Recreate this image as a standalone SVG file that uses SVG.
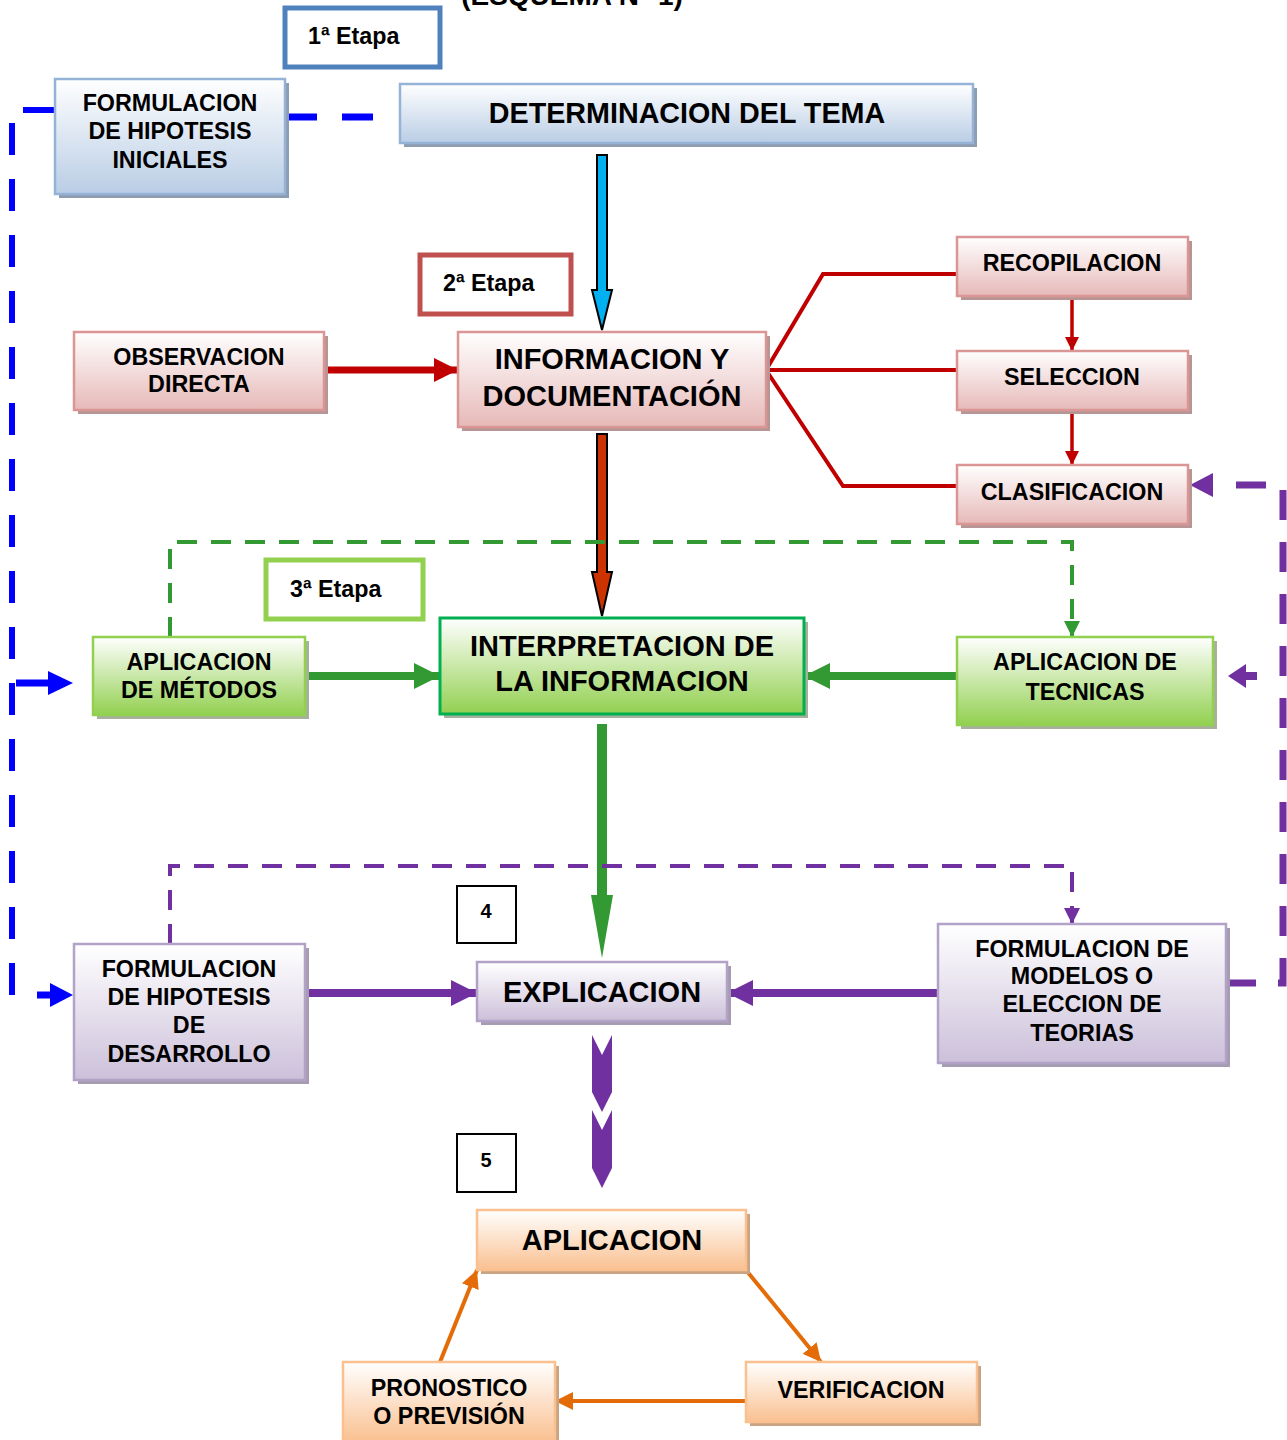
<svg xmlns="http://www.w3.org/2000/svg" width="1287" height="1440" viewBox="0 0 1287 1440">
<style>
text{font-family:"Liberation Sans",Arial,sans-serif;font-weight:bold;fill:#000;text-anchor:middle}
.s22{font-size:23.3px}
.s28{font-size:29px}
.etq{fill:#fff}
.blue{fill:url(#gBlue);stroke:#95B3D7;stroke-width:2.5}
.pink{fill:url(#gPink);stroke:#D99694;stroke-width:2.5}
.green{fill:url(#gGreen);stroke:#92D050;stroke-width:2.5}
.purple{fill:url(#gPurple);stroke:#B3A2C7;stroke-width:2.5}
.peach{fill:url(#gPeach);stroke:#FAC090;stroke-width:2.5}
.shB{fill:#8E9CB0}.shP{fill:#B89595}.shG{fill:#A7B09C}.shU{fill:#A69CB2}.shO{fill:#C9A483}
.red{stroke:#C00000;stroke-width:4;fill:none}
</style>
<defs>
<linearGradient id="gBlue" x1="0" y1="0" x2="0" y2="1"><stop offset="0" stop-color="#FFFFFF"/><stop offset="1" stop-color="#B9CDE5"/></linearGradient>
<linearGradient id="gPink" x1="0" y1="0" x2="0" y2="1"><stop offset="0" stop-color="#FFFFFF"/><stop offset="1" stop-color="#E6B9B8"/></linearGradient>
<linearGradient id="gGreen" x1="0" y1="0" x2="0" y2="1"><stop offset="0" stop-color="#FFFFFF"/><stop offset="1" stop-color="#92D050"/></linearGradient>
<linearGradient id="gPurple" x1="0" y1="0" x2="0" y2="1"><stop offset="0" stop-color="#FFFFFF"/><stop offset="1" stop-color="#CCC0DA"/></linearGradient>
<linearGradient id="gPeach" x1="0" y1="0" x2="0" y2="1"><stop offset="0" stop-color="#FFFFFF"/><stop offset="1" stop-color="#FAC090"/></linearGradient>
<marker id="aRed" markerUnits="userSpaceOnUse" markerWidth="24" markerHeight="24" viewBox="0 0 24 24" refX="24" refY="12" orient="auto"><path d="M0,0 L24,12 L0,24 Z" fill="#C00000"/></marker>
<marker id="aRedS" markerUnits="userSpaceOnUse" markerWidth="14" markerHeight="14" viewBox="0 0 14 14" refX="14" refY="7" orient="auto"><path d="M0,0 L14,7 L0,14 Z" fill="#C00000"/></marker>
<marker id="aGreen" markerUnits="userSpaceOnUse" markerWidth="26" markerHeight="26" viewBox="0 0 26 26" refX="26" refY="13" orient="auto"><path d="M0,0 L26,13 L0,26 Z" fill="#339933"/></marker>
<marker id="aGreenS" markerUnits="userSpaceOnUse" markerWidth="16" markerHeight="16" viewBox="0 0 16 16" refX="16" refY="8" orient="auto"><path d="M0,0 L16,8 L0,16 Z" fill="#339933"/></marker>
<marker id="aPur" markerUnits="userSpaceOnUse" markerWidth="26" markerHeight="26" viewBox="0 0 26 26" refX="26" refY="13" orient="auto"><path d="M0,0 L26,13 L0,26 Z" fill="#7030A0"/></marker>
<marker id="aPurS" markerUnits="userSpaceOnUse" markerWidth="16" markerHeight="16" viewBox="0 0 16 16" refX="16" refY="8" orient="auto"><path d="M0,0 L16,8 L0,16 Z" fill="#7030A0"/></marker>
<marker id="aOr" markerUnits="userSpaceOnUse" markerWidth="18" markerHeight="18" viewBox="0 0 18 18" refX="18" refY="9" orient="auto"><path d="M0,0 L18,9 L0,18 Z" fill="#E36C09"/></marker>
</defs>

<text x="572" y="5" style="font-size:28px">(ESQUEMA N° 1)</text>

<g id="connectors">
  <path d="M55,110 H12 V995" fill="none" stroke="#0000FF" stroke-width="6" stroke-dasharray="32 24"/>
  <path d="M16,683 H48" stroke="#0000FF" stroke-width="7" fill="none"/>
  <polygon points="48,671 73,683 48,695" fill="#0000FF"/>
  <path d="M37,995 H50" stroke="#0000FF" stroke-width="7" fill="none"/>
  <polygon points="50,983 73,995 50,1007" fill="#0000FF"/>
  <path d="M285,117 H373" fill="none" stroke="#0000FF" stroke-width="7" stroke-dasharray="32 25"/>

  <polygon points="597,155 607,155 607,290 612,290 602,330 592,290 597,290" fill="#00B0F0" stroke="#000" stroke-width="2"/>
  <path d="M324,370 H458" stroke="#C00000" stroke-width="7" fill="none" marker-end="url(#aRed)"/>
  <path class="red" d="M766,370 L823,274 H957"/>
  <path class="red" d="M766,370 H957"/>
  <path class="red" d="M766,370 L843,486 H957"/>
  <path d="M1072,296 V351" stroke="#C00000" stroke-width="3.5" fill="none" marker-end="url(#aRedS)"/>
  <path d="M1072,410 V465" stroke="#C00000" stroke-width="3.5" fill="none" marker-end="url(#aRedS)"/>
  <polygon points="597,434 607,434 607,572 612,572 602,616 592,572 597,572" fill="#CC3300" stroke="#000" stroke-width="2"/>
  <path d="M170,637 V542 H1072 V626" fill="none" stroke="#339933" stroke-width="4" stroke-dasharray="20 14"/>
  <path d="M1072,622 V637" stroke="#339933" stroke-width="4" marker-end="url(#aGreenS)"/>
  <path d="M305,676 H440" stroke="#339933" stroke-width="8" fill="none" marker-end="url(#aGreen)"/>
  <path d="M957,676 H804" stroke="#339933" stroke-width="8" fill="none" marker-end="url(#aGreen)"/>
  <polygon points="597,724 607,724 607,895 613,895 602,958 591,895 597,895" fill="#339933"/>
  <path d="M170,944 V866 H1072 V912" fill="none" stroke="#7030A0" stroke-width="4" stroke-dasharray="20 14"/>
  <path d="M1072,906 V924" stroke="#7030A0" stroke-width="4" marker-end="url(#aPurS)"/>
  <path d="M305,993 H477" stroke="#7030A0" stroke-width="8" fill="none" marker-end="url(#aPur)"/>
  <path d="M938,993 H727" stroke="#7030A0" stroke-width="8" fill="none" marker-end="url(#aPur)"/>
  <path d="M1226,983 H1283 V485 H1220" fill="none" stroke="#7030A0" stroke-width="7" stroke-dasharray="30 22"/>
  <polygon points="1190,485 1213,473 1213,497" fill="#7030A0"/>
  <path d="M1244,676 H1257" stroke="#7030A0" stroke-width="8" fill="none"/>
  <polygon points="1228,676 1246,664 1246,688" fill="#7030A0"/>
  <polygon points="592,1035 602,1055 612,1035 612,1092 602,1112 592,1092" fill="#7030A0"/>
  <polygon points="592,1110 602,1130 612,1110 612,1168 602,1188 592,1168" fill="#7030A0"/>
  <path d="M440,1362 L477,1270" stroke="#E36C09" stroke-width="4" fill="none" marker-end="url(#aOr)"/>
  <path d="M746,1270 L821,1362" stroke="#E36C09" stroke-width="4" fill="none" marker-end="url(#aOr)"/>
  <path d="M746,1401 H555" stroke="#E36C09" stroke-width="4" fill="none" marker-end="url(#aOr)"/>
</g>

<g id="etapa1"><rect x="285" y="8" width="155" height="59" class="etq" stroke="#4F81BD" stroke-width="5"/><text x="308" y="44" class="s22" style="text-anchor:start">1ª Etapa</text></g>
<g id="etapa2"><rect x="420" y="255" width="151" height="59" class="etq" stroke="#C0504D" stroke-width="5"/><text x="443" y="291" class="s22" style="text-anchor:start">2ª Etapa</text></g>
<g id="etapa3"><rect x="266" y="560" width="157" height="59" class="etq" stroke="#92D050" stroke-width="5"/><text x="290" y="597" class="s22" style="text-anchor:start">3ª Etapa</text></g>
<g id="etapa4"><rect x="457" y="886" width="59" height="57" class="etq" stroke="#000" stroke-width="2"/><text x="486" y="918" style="font-size:20px">4</text></g>
<g id="etapa5"><rect x="457" y="1134" width="59" height="58" class="etq" stroke="#000" stroke-width="2"/><text x="486" y="1167" style="font-size:20px">5</text></g>

<g id="hipotesis-iniciales"><rect x="59" y="83" width="230" height="115" class="shB"/><rect x="55" y="79" width="230" height="115" class="blue"/>
<text class="s22" x="170" y="111">FORMULACION</text><text class="s22" x="170" y="139">DE HIPOTESIS</text><text class="s22" x="170" y="168">INICIALES</text></g>

<g id="determinacion"><rect x="404" y="88" width="573" height="59" class="shB"/><rect x="400" y="84" width="573" height="59" class="blue"/>
<text x="687" y="123" style="font-size:28.7px">DETERMINACION DEL TEMA</text></g>

<g id="observacion"><rect x="78" y="336" width="250" height="78" class="shP"/><rect x="74" y="332" width="250" height="78" class="pink"/>
<text class="s22" x="199" y="365">OBSERVACION</text><text class="s22" x="199" y="392">DIRECTA</text></g>

<g id="informacion"><rect x="462" y="336" width="308" height="95" class="shP"/><rect x="458" y="332" width="308" height="95" class="pink"/>
<text class="s28" x="612" y="369">INFORMACION Y</text><text class="s28" x="612" y="406">DOCUMENTACIÓN</text></g>

<g id="recopilacion"><rect x="961" y="241" width="231" height="59" class="shP"/><rect x="957" y="237" width="231" height="59" class="pink"/><text class="s22" x="1072" y="271">RECOPILACION</text></g>
<g id="seleccion"><rect x="961" y="355" width="231" height="59" class="shP"/><rect x="957" y="351" width="231" height="59" class="pink"/><text class="s22" x="1072" y="385">SELECCION</text></g>
<g id="clasificacion"><rect x="961" y="469" width="231" height="59" class="shP"/><rect x="957" y="465" width="231" height="59" class="pink"/><text class="s22" x="1072" y="500">CLASIFICACION</text></g>

<g id="metodos"><rect x="97" y="641" width="212" height="78" class="shG"/><rect x="93" y="637" width="212" height="78" class="green"/>
<text class="s22" x="199" y="670">APLICACION</text><text class="s22" x="199" y="698">DE MÉTODOS</text></g>

<g id="interpretacion"><rect x="444" y="622" width="364" height="96" class="shG"/><rect x="440" y="618" width="364" height="96" fill="url(#gGreen)" stroke="#00B050" stroke-width="3"/>
<text class="s28" x="622" y="656">INTERPRETACION DE</text><text class="s28" x="622" y="691">LA INFORMACION</text></g>

<g id="tecnicas"><rect x="961" y="641" width="256" height="88" class="shG"/><rect x="957" y="637" width="256" height="88" class="green"/>
<text class="s22" x="1085" y="670">APLICACION DE</text><text class="s22" x="1085" y="700">TECNICAS</text></g>

<g id="hipotesis-desarrollo"><rect x="78" y="948" width="231" height="136" class="shU"/><rect x="74" y="944" width="231" height="136" class="purple"/>
<text class="s22" x="189" y="977">FORMULACION</text><text class="s22" x="189" y="1005">DE HIPOTESIS</text><text class="s22" x="189" y="1033">DE</text><text class="s22" x="189" y="1062">DESARROLLO</text></g>

<g id="explicacion"><rect x="481" y="966" width="250" height="59" class="shU"/><rect x="477" y="962" width="250" height="59" class="purple"/><text class="s28" x="602" y="1002">EXPLICACION</text></g>

<g id="modelos"><rect x="942" y="928" width="288" height="139" class="shU"/><rect x="938" y="924" width="288" height="139" class="purple"/>
<text class="s22" x="1082" y="957">FORMULACION DE</text><text class="s22" x="1082" y="984">MODELOS O</text><text class="s22" x="1082" y="1012">ELECCION DE</text><text class="s22" x="1082" y="1041">TEORIAS</text></g>

<g id="aplicacion"><rect x="481" y="1214" width="269" height="60" class="shO"/><rect x="477" y="1210" width="269" height="60" class="peach"/><text class="s28" x="612" y="1250">APLICACION</text></g>

<g id="pronostico"><rect x="347" y="1366" width="212" height="80" class="shO"/><rect x="343" y="1362" width="212" height="80" class="peach"/>
<text class="s22" x="449" y="1396">PRONOSTICO</text><text class="s22" x="449" y="1424">O PREVISIÓN</text></g>

<g id="verificacion"><rect x="750" y="1366" width="231" height="60" class="shO"/><rect x="746" y="1362" width="231" height="60" class="peach"/><text class="s22" x="861" y="1398">VERIFICACION</text></g>
</svg>
